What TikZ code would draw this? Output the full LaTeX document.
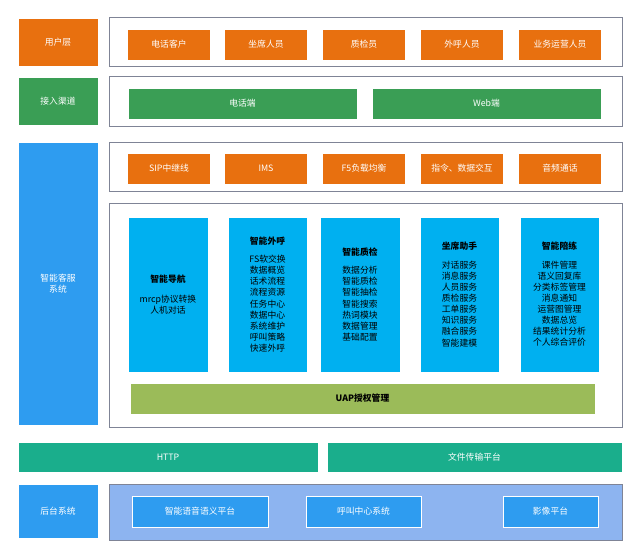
\documentclass[tikz,border=0pt]{standalone}
\usepackage{fontspec}
\setmainfont{Liberation Sans}
\newfontfamily\cjk{Noto Sans CJK SC}
\usetikzlibrary{positioning}
\definecolor{orng}{HTML}{E8700F}
\definecolor{grn}{HTML}{3A9E55}
\definecolor{blu}{HTML}{2E9CF0}
\definecolor{cyn}{HTML}{00B0F0}
\definecolor{olv}{HTML}{9BBB59}
\definecolor{tel}{HTML}{1AAE8C}
\definecolor{lblu}{HTML}{8DB4F0}
\definecolor{frm}{HTML}{7F8496}

\begin{document}
\begin{tikzpicture}[x=0.03cm,y=-0.03cm, every node/.style={font=\cjk\fontsize{7.5}{9.5}\selectfont}]
\tikzset{
  frame/.style={draw=frm,line width=0.8pt,fill=white},
  cell/.style={draw=white,line width=0.5pt,text=white,inner sep=0pt},
  module/.style={draw=white,fill=cyn,line width=0.5pt,align=center,inner sep=0pt}
}
\useasboundingbox (0,0) rectangle (640,558);

% layer labels
\node[cell,fill=orng,minimum width=80*0.03cm,minimum height=48*0.03cm] (user) at (58,42) {用户层};
\node[cell,fill=grn,minimum width=80*0.03cm,minimum height=48*0.03cm] (access) at (58,101) {接入渠道};
\node[cell,fill=blu,minimum width=80*0.03cm,minimum height=283*0.03cm,align=center] (sys) at (58,283.5) {智能客服\\系统};
\node[cell,fill=blu,minimum width=80*0.03cm,minimum height=54*0.03cm] (back) at (58,511) {后台系统};

% frames
\draw[frame] (109,17) rectangle (622,66);
\draw[frame] (109,76) rectangle (622,126);
\draw[frame] (109,142) rectangle (622,191);
\draw[frame] (109,203) rectangle (622,427);
\draw[frame,fill=lblu] (109,484) rectangle (622,540);

% user row
\foreach \x/\t [count=\i] in {169/电话客户,266/坐席人员,364/质检员,462/外呼人员,560/业务运营人员}
  \node[cell,fill=orng,minimum width=83*0.03cm,minimum height=31*0.03cm] (u\i) at (\x,44.5) {\t};

% access row
\node[cell,fill=grn,minimum width=229*0.03cm,minimum height=31*0.03cm] (tel) at (242.5,103.5) {电话端};
\node[cell,fill=grn,minimum width=229*0.03cm,minimum height=31*0.03cm] (web) at (486.5,103.5) {Web端};

% system row
\foreach \x/\t [count=\i] in {169/SIP中继线,266/IMS,364/F5负载均衡,462/{指令、数据交互},560/音频通话}
  \node[cell,fill=orng,minimum width=83*0.03cm,minimum height=31*0.03cm] (s\i) at (\x,168.5) {\t};

% modules
\node[module,minimum width=80*0.03cm,minimum height=155*0.03cm] (nav) at (168,294.5) {\textbf{智能导航}\\[8pt]mrcp协议转换\\人机对话};
\node[module,minimum width=79*0.03cm,minimum height=155*0.03cm] (call) at (267.5,294.5) {\textbf{智能外呼}\\[6pt]FS软交换\\数据概览\\话术流程\\流程资源\\任务中心\\数据中心\\系统维护\\呼叫策略\\快速外呼};
\node[module,minimum width=80*0.03cm,minimum height=155*0.03cm] (qc) at (360,294.5) {\textbf{智能质检}\\[6pt]数据分析\\智能质检\\智能抽检\\智能搜索\\热词模块\\数据管理\\基础配置};
\node[module,minimum width=79*0.03cm,minimum height=155*0.03cm] (asst) at (459.5,294.5) {\textbf{坐席助手}\\[6pt]对话服务\\消息服务\\人员服务\\质检服务\\工单服务\\知识服务\\融合服务\\智能建模};
\node[module,minimum width=79*0.03cm,minimum height=155*0.03cm] (train) at (559.5,294.5) {\textbf{智能陪练}\\[6pt]课件管理\\语义回复库\\分类标签管理\\消息通知\\运营图管理\\数据总览\\结果统计分析\\个人综合评价};
\node[module,fill=olv,minimum width=465*0.03cm,minimum height=31*0.03cm] (uap) at (362.5,398.5) {\textbf{UAP授权管理}};

% transport
\node[cell,fill=tel,minimum width=300*0.03cm,minimum height=30*0.03cm] (http) at (168,457) {HTTP};
\node[cell,fill=tel,minimum width=295*0.03cm,minimum height=30*0.03cm] (ftp) at (474.5,457) {文件传输平台};

% backend
\node[cell,fill=blu,minimum width=136*0.03cm,minimum height=31*0.03cm] (nlp) at (200,511.5) {智能语音语义平台};
\node[cell,fill=blu,minimum width=115*0.03cm,minimum height=31*0.03cm] (cc) at (363.5,511.5) {呼叫中心系统};
\node[cell,fill=blu,minimum width=95*0.03cm,minimum height=31*0.03cm] (img) at (550.5,511.5) {影像平台};
\end{tikzpicture}
\end{document}
